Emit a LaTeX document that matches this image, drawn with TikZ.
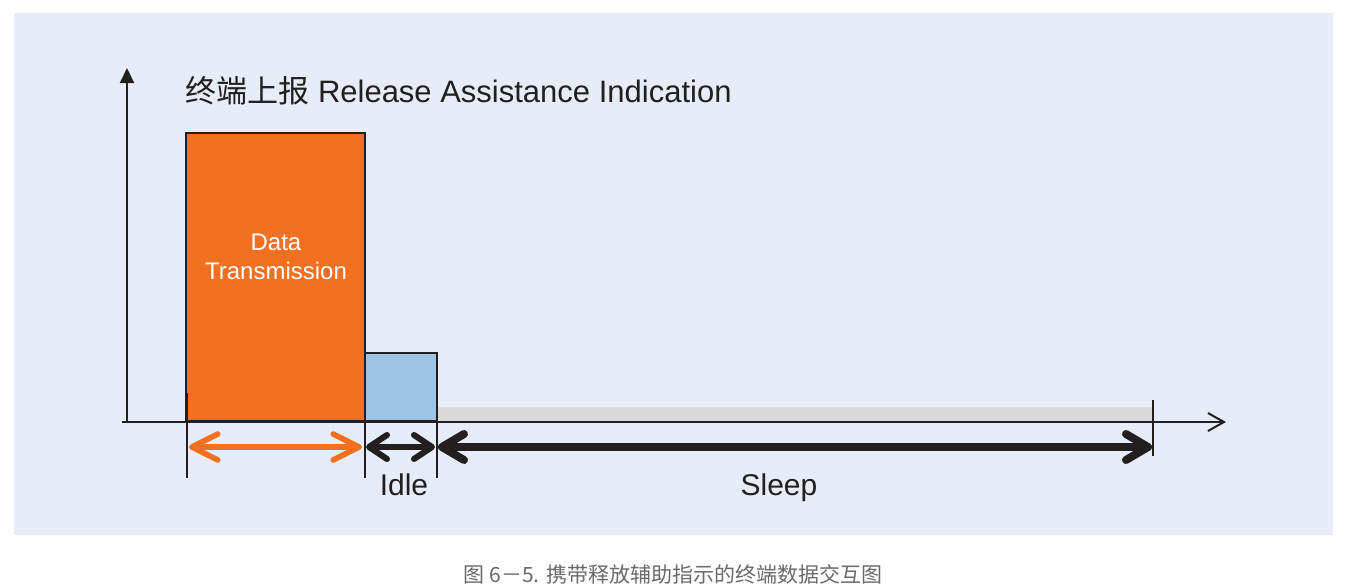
\documentclass[tikz,border=0pt]{standalone}
\usepackage{fontspec}
\setmainfont{Liberation Sans}
\newfontfamily\cjk{Noto Sans CJK SC}
\usetikzlibrary{arrows.meta}
\definecolor{panel}{HTML}{E6EDF8}
\definecolor{dataorange}{HTML}{F37021}
\definecolor{idleblue}{HTML}{9DC3E6}
\definecolor{sleepgray}{HTML}{DADADA}
\definecolor{ink}{HTML}{231F20}
\definecolor{captiongray}{HTML}{6A6A6A}
\begin{document}
\begin{tikzpicture}[x=0.5pt,y=-0.5pt,
  box/.style={draw=ink,line width=1.2pt,inner sep=0pt,outer sep=0pt,anchor=north west},
  axisline/.style={draw=ink,line width=1pt},
  tickline/.style={draw=ink,line width=1.1pt},
  lbl/.style={text=ink,font=\fontsize{15}{18}\selectfont,anchor=base},
  orangearrow/.style={draw=dataorange,line width=2.8pt,line cap=round,
    {Straight Barb[length=13pt,width=13pt,round]}-{Straight Barb[length=13pt,width=13pt,round]}},
  idlearrow/.style={draw=ink,line width=3pt,line cap=round,
    {Straight Barb[length=9pt,width=12pt,round]}-{Straight Barb[length=9pt,width=12pt,round]}},
  sleeparrow/.style={draw=ink,line width=4pt,line cap=round,
    {Straight Barb[length=11pt,width=13pt,round]}-{Straight Barb[length=11pt,width=13pt,round]}}
]
\useasboundingbox (0,0) rectangle (1350,586);
\fill[white] (0,0) rectangle (1350,586);
\fill[panel] (14,13) rectangle (1333,535);

% bars
\node[box,fill=sleepgray,draw=none,minimum width=358pt,minimum height=7pt] (sleepbar) at (437,407) {};
\node[box,fill=dataorange,minimum width=89.5pt,minimum height=144pt] (data) at (186,133) {};
\node[box,fill=idleblue,minimum width=36pt,minimum height=34pt] (idle) at (365,353) {};
\node[text=white,font=\fontsize{12}{14.5}\selectfont,align=center] (datatext) at (276,257) {Data\\Transmission};

% axes
\coordinate (origin) at (127,422);
\coordinate (ytop) at (127,68);
\coordinate (xstart) at (122,422);
\coordinate (xend) at (1226,422);
\draw[axisline,-{Triangle[length=7.5pt,width=7pt]}] (origin) -- (ytop);
\draw[axisline,-{Straight Barb[length=8pt,width=9pt]}] (xstart) -- (xend);

% ticks
\coordinate (t1a) at (187,393); \coordinate (t1b) at (187,478);
\coordinate (t2a) at (365,421); \coordinate (t2b) at (365,478);
\coordinate (t3a) at (437,421); \coordinate (t3b) at (437,478);
\coordinate (t4a) at (1153,400); \coordinate (t4b) at (1153,456);
\draw[tickline] (t1a) -- (t1b);
\draw[tickline] (t2a) -- (t2b);
\draw[tickline] (t3a) -- (t3b);
\draw[tickline] (t4a) -- (t4b);

% duration arrows
\coordinate (oa) at (189,447); \coordinate (ob) at (362,447);
\coordinate (ia) at (366,447); \coordinate (ib) at (435,447);
\coordinate (sa) at (438,447); \coordinate (sb) at (1152,447);
\draw[orangearrow] (oa) -- (ob);
\draw[idlearrow] (ia) -- (ib);
\draw[sleeparrow] (sa) -- (sb);

% labels
\node[lbl] (idlelabel) at (404,495) {Idle};
\node[lbl] (sleeplabel) at (779,495) {Sleep};
\node[text=ink,font=\fontsize{15.5}{18}\selectfont,anchor=base west,inner sep=0pt] (title) at (185,102) {{\cjk 终端上报} Release Assistance Indication};
\node[text=captiongray,font=\cjk\fontsize{10.5}{12}\selectfont] (caption) at (673,574) {图 6－5. 携带释放辅助指示的终端数据交互图};
\end{tikzpicture}
\end{document}
